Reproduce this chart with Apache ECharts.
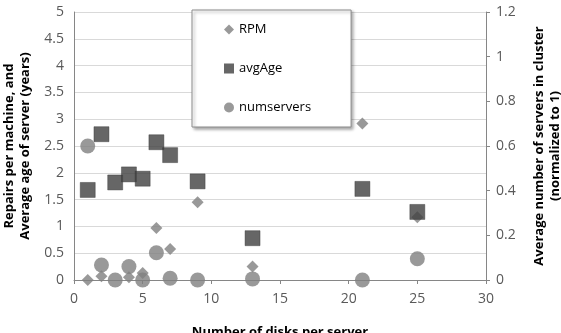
<!DOCTYPE html>
<html>
<head>
<meta charset="utf-8">
<script src="https://cdn.jsdelivr.net/npm/echarts@6/dist/echarts.min.js"></script>
<style>
html, body { margin: 0; padding: 0; background: #fff; }
#main { width: 561px; height: 333px; }
</style>
</head>
<body>
<div id="main"></div>
<script>
var myChart = echarts.init(document.getElementById('main'));

// disks per server
var disks = [1, 2, 3, 4, 5, 6, 7, 9, 13, 21, 25];
// repairs per machine (left axis)
var rpm = [0.0, 0.07, null, 0.05, 0.13, 0.97, 0.58, 1.45, 0.25, 2.92, 1.17];
// average age of server, years (left axis)
var avgAge = [1.68, 2.72, 1.82, 1.97, 1.89, 2.57, 2.33, 1.84, 0.78, 1.7, 1.27];
// normalized number of servers (right axis)
var numservers = [0.6, 0.067, 0.0, 0.06, 0.0, 0.122, 0.008, 0.0, 0.005, 0.0, 0.095];

function pairs(vals) {
    var out = [];
    for (var i = 0; i < disks.length; i++) {
        if (vals[i] !== null) out.push([disks[i], vals[i]]);
    }
    return out;
}

var font = 'Open Sans';
var labelStyle = { color: '#595959', fontSize: 14, fontFamily: font };
var nameStyle = { color: '#000', fontSize: 13, fontWeight: 'bold', fontFamily: font, lineHeight: 16 };

option = {
    backgroundColor: '#fff',
    animation: false,
    grid: { left: 74, right: 75, top: 12, bottom: 53, outerBoundsMode: 'none' },
    legend: {
        orient: 'vertical',
        left: 192,
        top: 10,
        padding: [13, 40, 13, 32],
        itemGap: 26,
        itemWidth: 10,
        itemHeight: 10,
        backgroundColor: '#fff',
        borderColor: '#8c8c8c',
        borderWidth: 1,
        shadowColor: 'rgba(0,0,0,0.35)',
        shadowBlur: 3,
        shadowOffsetX: 2,
        shadowOffsetY: 2,
        itemStyle: { borderWidth: 0 },
        textStyle: { color: '#000', fontSize: 13, fontFamily: font },
        data: [
            { name: 'RPM', icon: 'diamond' },
            { name: 'avgAge', icon: 'rect' },
            { name: 'numservers', icon: 'circle' }
        ]
    },
    xAxis: {
        type: 'value',
        min: 0, max: 30, interval: 5,
        name: 'Number of disks per server',
        nameLocation: 'middle',
        nameGap: 44,
        nameTextStyle: nameStyle,
        axisLine: { lineStyle: { color: '#868686' } },
        axisTick: { show: true, length: 4, lineStyle: { color: '#868686' } },
        axisLabel: Object.assign({ margin: 12 }, labelStyle),
        splitLine: { show: false }
    },
    yAxis: [
        {
            type: 'value',
            min: 0, max: 5, interval: 0.5,
            name: 'Repairs per machine, and\nAverage age of server (years)',
            nameLocation: 'middle',
            nameRotate: 90,
            nameGap: 33,
            nameTextStyle: nameStyle,
            axisLine: { show: true, lineStyle: { color: '#868686' } },
            axisTick: { show: false },
            axisLabel: Object.assign({ margin: 10 }, labelStyle),
            splitLine: { lineStyle: { color: '#d9d9d9' } }
        },
        {
            type: 'value',
            min: 0, max: 1.2, interval: 0.2,
            name: 'Average number of servers in cluster\n(normalized to 1)',
            nameLocation: 'middle',
            nameRotate: 90,
            nameGap: 45,
            nameTextStyle: nameStyle,
            axisLine: { show: true, lineStyle: { color: '#868686' } },
            axisTick: { show: true, length: 4, lineStyle: { color: '#868686' } },
            axisLabel: Object.assign({ margin: 10 }, labelStyle),
            splitLine: { show: false }
        }
    ],
    series: [
        {
            name: 'RPM',
            type: 'scatter',
            symbol: 'diamond',
            symbolSize: 12,
            yAxisIndex: 0,
            itemStyle: { color: '#7f7f7f' },
            data: pairs(rpm)
        },
        {
            name: 'avgAge',
            type: 'scatter',
            symbol: 'rect',
            symbolSize: 15,
            yAxisIndex: 0,
            itemStyle: { color: '#404040', borderColor: '#333', borderWidth: 0.5 },
            data: pairs(avgAge)
        },
        {
            name: 'numservers',
            type: 'scatter',
            symbol: 'circle',
            symbolSize: 15,
            yAxisIndex: 1,
            itemStyle: { color: '#7f7f7f' },
            data: pairs(numservers)
        }
    ]
};

myChart.setOption(option);
</script>
</body>
</html>
